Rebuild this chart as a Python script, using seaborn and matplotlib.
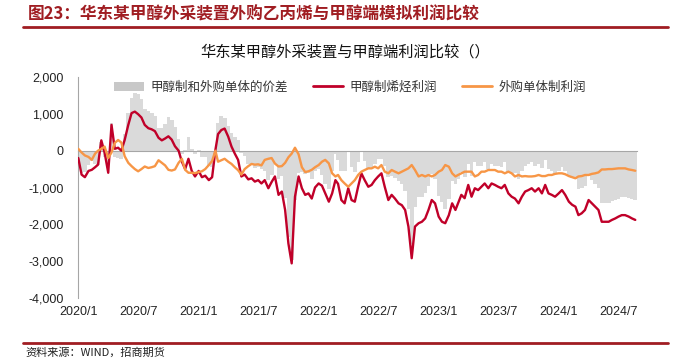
import numpy as np
import pandas as pd
import matplotlib
matplotlib.use("Agg")
import matplotlib.pyplot as plt
import matplotlib.dates as mdates
import matplotlib.ticker as mticker
from matplotlib.patches import Patch
from matplotlib.lines import Line2D
import seaborn as sns

sns.set_style("white")
plt.rcParams["font.family"] = ["Noto Sans CJK SC", "DejaVu Sans"]
plt.rcParams["axes.unicode_minus"] = False

# ---------------- data (10-day sampling: 1st, 11th, 21st of each month) ----------------
red_2020 = [-200, -650, -720, -550, -520, -450, -380, 280, -50, -600, 700, 50, 80, 0, 290, 700, 1020, 1060,
            990, 900, 700, 610, 580, 530, 350, 280, 330, 390, 300, 120, 0, -300, -500, -220, -550, -700]
red_2021 = [-550, -720, -680, -800, -720, 20, 450, 560, 600, 380, 110, -80, -250, -700, -650, -780, -750, -840,
            -800, -890, -800, -1020, -850, -700, -1200, -1110, -1610, -2520, -3060, -1250, -700, -1020, -1200,
            -1160, -1300, -1000]
red_2022 = [-890, -950, -1160, -1385, -1160, -800, -900, -1340, -1430, -1020, -1340, -1385, -980, -615, -800,
            -980, -930, -800, -700, -615, -980, -1340, -1200, -1300, -1430, -1480, -1610, -2060, -2920, -2060,
            -1970, -1930, -1840, -1610, -1340, -1430]
red_2023 = [-1790, -1930, -1970, -1750, -1430, -1610, -1430, -1200, -1290, -930, -1250, -1020, -1070, -980,
            -890, -1020, -890, -930, -980, -1020, -930, -1160, -1250, -1300, -1430, -1250, -1110, -1070, -1020,
            -1110, -1020, -1160, -930, -1160, -1200, -1250]
red_2024 = [-1160, -1070, -1200, -1385, -1470, -1520, -1750, -1700, -1610, -1340, -1430, -1520, -1610, -1930,
            -1930, -1930, -1880, -1840, -1790, -1750, -1750, -1790, -1840, -1880]

orange_2020 = [50, -50, -130, -170, -250, -80, 0, 50, 110, -200, -50, 210, 290, 220, -150, -330, -420, -500,
               -560, -500, -430, -470, -450, -420, -260, -330, -400, -520, -540, -510, -330, -220, -520, -600,
               -600, -610]
orange_2021 = [-580, -560, -500, -390, -280, 0, -300, -260, -220, -300, -360, -450, -530, -650, -500, -420, -360,
               -380, -370, -400, -250, -220, -200, -350, -430, -420, -330, -180, -80, 80, -100, -450, -580, -560,
               -520, -450]
orange_2022 = [-390, -300, -250, -345, -615, -700, -660, -800, -890, -980, -890, -800, -660, -570, -525, -480,
               -480, -435, -480, -390, -570, -615, -525, -570, -615, -570, -525, -480, -390, -525, -700, -660,
               -700, -660, -700, -660]
orange_2023 = [-570, -525, -390, -435, -615, -700, -660, -615, -570, -570, -570, -700, -660, -570, -570, -525,
               -525, -525, -570, -570, -615, -570, -615, -700, -660, -700, -690, -700, -700, -690, -660, -690,
               -690, -660, -660, -630]
orange_2024 = [-615, -615, -640, -690, -720, -750, -700, -690, -660, -660, -630, -615, -590, -510, -510, -500,
               -500, -490, -480, -480, -480, -510, -525, -545]

spread_2020 = [-250, -600, -590, -380, -270, -370, -380, 230, -160, -400, 750, -160, -210, -220, 440, 1030, 1440,
               1560, 1550, 1400, 1130, 1080, 1030, 950, 610, 610, 730, 910, 840, 630, 330, -80, 20, 380, 50, -90]
spread_2021 = [30, -160, -180, -410, -440, 20, 750, 950, 900, 680, 470, 370, 280, -50, -150, -360, -390, -460,
               -430, -490, -550, -800, -650, -350, -770, -690, -1280, -2340, -2980, -1330, -600, -570, -620, -600,
               -780, -550]
spread_2022 = [-500, -650, -910, -1040, -545, -100, -240, -540, -540, -40, -450, -585, -320, -45, -275, -500,
               -450, -365, -220, -225, -410, -725, -675, -730, -815, -910, -1085, -1580, -2530, -1535, -1270,
               -1270, -1140, -950, -640, -770]
spread_2023 = [-1220, -1405, -1580, -1315, -815, -910, -770, -585, -720, -360, -680, -320, -410, -410, -320, -495,
               -365, -405, -410, -450, -315, -590, -635, -600, -770, -550, -420, -370, -320, -420, -360, -470,
               -240, -500, -540, -620]
spread_2024 = [-545, -455, -560, -695, -750, -770, -1050, -1010, -950, -680, -800, -905, -1020, -1420, -1420,
               -1430, -1380, -1350, -1310, -1270, -1270, -1280, -1315, -1335]

tick_labels = ["2020/1", "2020/7", "2021/1", "2021/7", "2022/1", "2022/7", "2023/1", "2023/7", "2024/1", "2024/7"]
series_names = ["甲醇制和外购单体的价差", "甲醇制烯烃利润", "外购单体制利润"]
header = "图23：华东某甲醇外采装置外购乙丙烯与甲醇端模拟利润比较"
chart_title = "华东某甲醇外采装置与甲醇端利润比较（）"
source = "资料来源：WIND，招商期货"

red = red_2020 + red_2021 + red_2022 + red_2023 + red_2024
orange = orange_2020 + orange_2021 + orange_2022 + orange_2023 + orange_2024
spread = spread_2020 + spread_2021 + spread_2022 + spread_2023 + spread_2024

dates = [pd.Timestamp(y, m, d) for y in range(2020, 2025) for m in range(1, 13) for d in (1, 11, 21)][:len(red)]
df = pd.DataFrame({"date": dates, "red": red, "orange": orange, "spread": spread})

C_RED = "#C00029"
C_ORANGE = "#F79646"
C_GREY = "#DADADA"
C_AXIS = "#A6A6A6"
C_HEAD = "#A01D22"

# ---------------- figure ----------------
W, H = 688, 359
fig = plt.figure(figsize=(W / 100, H / 100), dpi=100)
x0, x1 = 78.3, 636.6
y_top, y_bot = 77, 298
ax = fig.add_axes([x0 / W, 1 - y_bot / H, (x1 - x0) / W, (y_bot - y_top) / H])

ax.bar(df["date"], df["spread"], width=11.5, color=C_GREY, linewidth=0, zorder=1)
sns.lineplot(data=df, x="date", y="red", color=C_RED, lw=1.7, ax=ax, zorder=3)
sns.lineplot(data=df, x="date", y="orange", color=C_ORANGE, lw=1.7, ax=ax, zorder=4)

ax.set_xlim(pd.Timestamp("2020-01-01"), pd.Timestamp("2024-08-25"))
ax.set_ylim(-4000, 2000)
ax.set_xlabel("")
ax.set_ylabel("")

tick_dates = [pd.Timestamp(int(s.split("/")[0]), int(s.split("/")[1]), 1) for s in tick_labels]
tick_nums = mdates.date2num(tick_dates)

for s in ["top", "right"]:
    ax.spines[s].set_visible(False)
ax.spines["left"].set_color(C_AXIS)
ax.spines["bottom"].set_color(C_AXIS)
ax.spines["bottom"].set_position(("data", 0))
ax.spines["bottom"].set_zorder(2)
ax.set_xticks(tick_nums)
ax.tick_params(axis="x", direction="out", length=3, color=C_AXIS, labelbottom=False)

ax.set_yticks(range(-4000, 2001, 1000))
ax.yaxis.set_major_formatter(mticker.FuncFormatter(lambda v, p: f"{int(v):,}"))
ax.tick_params(axis="y", direction="out", length=2.5, color=C_AXIS, pad=8,
               labelsize=9, labelfontfamily="Liberation Sans", labelcolor="#222222")

sec = ax.secondary_xaxis("bottom")
sec.set_xticks(tick_nums, tick_labels)
sec.tick_params(length=0, pad=6, labelsize=9, labelfontfamily="Liberation Sans", labelcolor="#222222")
sec.spines["bottom"].set_visible(False)

# legend
handles = [Patch(facecolor="#C8C8C8", edgecolor="none"),
           Line2D([], [], color=C_RED, lw=2),
           Line2D([], [], color=C_ORANGE, lw=2)]
fig.legend(handles, series_names, ncol=3, loc="center", bbox_to_anchor=(350 / W, 1 - 87 / H),
           frameon=False, fontsize=9, handlelength=2.4, columnspacing=2.0, handletextpad=0.5,
           labelcolor="#333333")

# header / title / footer
fig.text(28 / W, 1 - 15 / H, header, fontsize=12, fontweight="bold", color=C_HEAD, ha="left", va="center")
fig.add_artist(Line2D([23 / W, 668 / W], [1 - 27 / H] * 2, color=C_HEAD, lw=2))
fig.text(345 / W, 1 - 52 / H, chart_title, fontsize=11, ha="center", va="center", color="#111111")
fig.add_artist(Line2D([23 / W, 668 / W], [1 - 343 / H] * 2, color=C_HEAD, lw=2))
fig.text(25 / W, 1 - 352 / H, source, fontsize=8, ha="left", va="center", color="#222222")

fig.savefig("out.png", dpi=100)
